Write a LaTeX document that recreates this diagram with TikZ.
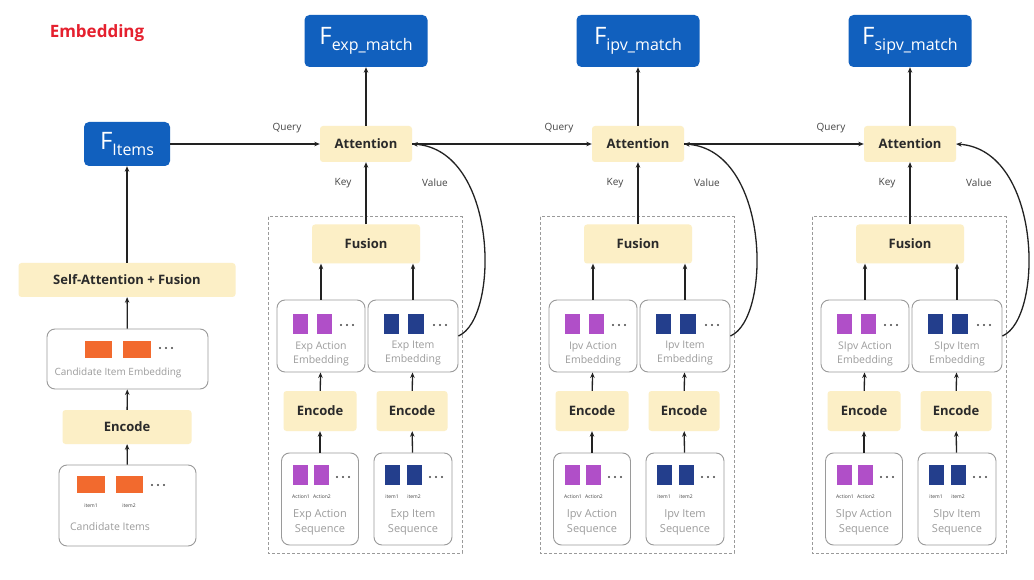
\documentclass[tikz,border=0pt]{standalone}
\usepackage{fontspec}
\setmainfont{Open Sans}
\usetikzlibrary{arrows.meta}
\definecolor{yfill}{HTML}{FCEFC6}
\definecolor{fblue}{HTML}{1160BE}
\definecolor{gline}{HTML}{9A9A9A}
\definecolor{gtext}{HTML}{9C9C9C}
\definecolor{dline}{HTML}{222222}
\definecolor{purp}{HTML}{B04FC8}
\definecolor{navy}{HTML}{233E8C}
\definecolor{orng}{HTML}{F26A2E}
\definecolor{ered}{HTML}{E5202E}
\definecolor{txt}{HTML}{2A2A2A}
\definecolor{labc}{HTML}{444444}
\newcommand\Flab[1]{{\fontsize{24}{24}\selectfont F}\raisebox{-6pt}{\fontsize{16}{16}\selectfont #1}}
\begin{document}
\begin{tikzpicture}[x=1pt,y=-1pt,
  ybox/.style={fill=yfill, rounded corners=3pt, inner sep=0pt, text=txt, font=\bfseries\fontsize{13}{15}\selectfont},
  fnode/.style={fill=fblue, rounded corners=5pt, inner sep=0pt, text=white},
  gbox/.style={draw=gline, line width=0.9pt, rounded corners=8pt, inner sep=0pt},
  gtxt/.style={text=gtext, font=\fontsize{10.5}{14}\selectfont, align=center, inner sep=0pt},
  tiny/.style={text=labc, font=\fontsize{5}{6}\selectfont, inner sep=0pt},
  lab/.style={text=labc, font=\fontsize{10}{12}\selectfont, inner sep=0pt},
  arr/.style={-{Stealth[length=5.5pt,width=4.5pt]}, line width=1.3pt, draw=dline},
  dashbox/.style={draw=gline, dashed, dash pattern=on 3pt off 2pt, line width=1pt}]
\useasboundingbox[fill=white] (0,0) rectangle (1034,580);

% Title
\node[text=ered, font=\bfseries\fontsize{17}{20}\selectfont, inner sep=0pt] (title) at (97,33) {Embedding};

% Left column
\node[fnode, minimum width=86pt, minimum height=44pt] (fitems) at (127,144) {\Flab{Items}};
\node[ybox, minimum width=217pt, minimum height=34pt] (selfatt) at (127,280) {Self-Attention + Fusion};
\node[gbox, minimum width=161pt, minimum height=60pt] (candemb) at (127.5,359) {};
\fill[orng] (85,341) rectangle (112,358);
\fill[orng] (123,341) rectangle (151,358);
\foreach \k in {0,1,2} \fill[labc] ({160+\k*6},348) circle (1.1pt);
\node[gtxt, font=\fontsize{10}{11}\selectfont] (candembt) at (118,373) {Candidate Item Embedding};
\node[ybox, minimum width=129pt, minimum height=34pt] (encl) at (127,427) {Encode};
\node[gbox, minimum width=137pt, minimum height=81pt] (canditems) at (127.5,505.5) {};
\fill[orng] (77,476) rectangle (105,493);
\fill[orng] (116,476) rectangle (143,493);
\foreach \k in {0,1,2} \fill[labc] ({152+\k*6},485) circle (1.1pt);
\node[tiny] (it1) at (91,506) {item1};
\node[tiny] (it2) at (129,506) {item2};
\node[gtxt] (canditemst) at (110,527) {Candidate Items};

\draw[arr] (canditems) -- (encl);
\draw[arr] (encl) -- (candemb);
\draw[arr] (candemb) -- (selfatt);
\draw[arr] (selfatt) -- (fitems);

% Three groups
\foreach \i/\dx/\nm/\Nm in {1/0/exp/Exp,2/272/ipv/Ipv,3/544/sipv/SIpv}{
  \draw[dashbox] ({268+\dx},217) rectangle ({462+\dx},553);
  \node[fnode, minimum width=123pt, minimum height=52pt] (f\i) at ({366+\dx},41) {\Flab{\nm\_match}};
  \node[ybox, minimum width=92pt, minimum height=36pt] (att\i) at ({366+\dx},144) {Attention};
  \node[ybox, minimum width=108pt, minimum height=39pt] (fus\i) at ({366+\dx},244) {Fusion};
  % embedding boxes
  \node[gbox, minimum width=88pt, minimum height=72pt] (emba\i) at ({321+\dx},336) {};
  \node[gbox, minimum width=90pt, minimum height=72pt] (embb\i) at ({413+\dx},336) {};
  \fill[purp] ({293+\dx},314) rectangle ({308+\dx},334);
  \fill[purp] ({317+\dx},314) rectangle ({332+\dx},334);
  \foreach \k in {0,1,2} \fill[labc] ({341+\dx+\k*6},325) circle (1.1pt);
  \fill[navy] ({384+\dx},314) rectangle ({399+\dx},334);
  \fill[navy] ({408+\dx},314) rectangle ({424+\dx},334);
  \foreach \k in {0,1,2} \fill[labc] ({434+\dx+\k*6},325) circle (1.1pt);
  \node[gtxt] (embat\i) at ({321+\dx},353.5) {\Nm{} Action\\Embedding};
  \node[gtxt] (embbt\i) at ({413+\dx},353.5) {\Nm{} Item\\Embedding};
  % encoders
  \node[ybox, minimum width=73pt, minimum height=40pt] (enca\i) at ({320+\dx},411) {Encode};
  \node[ybox, minimum width=71pt, minimum height=40pt] (encb\i) at ({412+\dx},411) {Encode};
  % sequences
  \node[gbox, minimum width=77pt, minimum height=92pt] (seqa\i) at ({320+\dx},499) {};
  \node[gbox, minimum width=78pt, minimum height=92pt] (seqb\i) at ({413+\dx},499) {};
  \fill[purp] ({293+\dx},465) rectangle ({308+\dx},485);
  \fill[purp] ({314+\dx},465) rectangle ({329+\dx},485);
  \foreach \k in {0,1,2} \fill[labc] ({337+\dx+\k*6},477) circle (1.1pt);
  \fill[navy] ({385+\dx},465) rectangle ({400+\dx},485);
  \fill[navy] ({407+\dx},465) rectangle ({422+\dx},485);
  \foreach \k in {0,1,2} \fill[labc] ({430+\dx+\k*6},477) circle (1.1pt);
  \node[tiny] (ac1\i) at ({301+\dx},497) {Action1};
  \node[tiny] (ac2\i) at ({322+\dx},497) {Action2};
  \node[tiny] (im1\i) at ({392+\dx},497) {item1};
  \node[tiny] (im2\i) at ({414+\dx},497) {item2};
  \node[gtxt, font=\fontsize{11}{15}\selectfont] (seqat\i) at ({320+\dx},522) {\Nm{} Action\\Sequence};
  \node[gtxt, font=\fontsize{11}{15}\selectfont] (seqbt\i) at ({413+\dx},522) {\Nm{} Item\\Sequence};
  % connectors
  \draw[arr] (seqa\i) -- (enca\i);
  \draw[arr] (seqb\i) -- (encb\i);
  \draw[arr] (enca\i) -- (emba\i);
  \draw[arr] (encb\i) -- (embb\i);
  \draw[arr] (emba\i.north) -- (emba\i.north |- fus\i.south);
  \draw[arr] (embb\i.north) -- (embb\i.north |- fus\i.south);
  \draw[arr] (fus\i) -- (att\i);
  \draw[arr] (att\i) -- (f\i);
  \draw[arr] (embb\i.east) .. controls ({500+\dx},318) and ({498+\dx},150) .. (att\i.east);
  % labels
  \node[lab] (q\i) at ({287+\dx},128) {Query};
  \node[lab] (k\i) at ({343+\dx},183) {Key};
  \node[lab] (v\i) at ({435+\dx},183) {Value};
}

\draw[arr] (fitems) -- (att1);
\draw[arr] (att1) -- (att2);
\draw[arr] (att2) -- (att3);
\end{tikzpicture}
\end{document}
